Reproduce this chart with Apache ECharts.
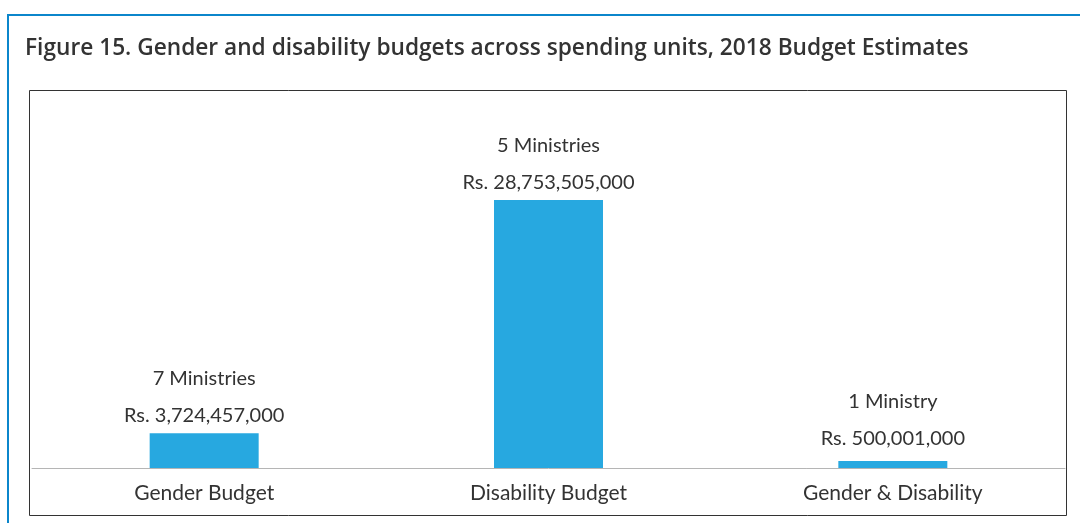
<!DOCTYPE html>
<html>
<head>
<meta charset="utf-8">
<script src="https://cdn.jsdelivr.net/npm/echarts@6/dist/echarts.min.js"></script>
<style>
  html, body { margin: 0; padding: 0; background: #fff; }
  #chart { width: 1080px; height: 523px; }
</style>
</head>
<body>
<div id="chart"></div>
<script>
// Budget categories and their 2018 estimates (Rs.)
const categories = ['Gender Budget', 'Disability Budget', 'Gender & Disability'];
const budgetValues = [3724457000, 28753505000, 500001000];
const ministryLabels = ['7 Ministries', '5 Ministries', '1 Ministry'];

const titleText = 'Figure 15. Gender and disability budgets across spending units, 2018 Budget Estimates';
const barColor = '#27a8e0';
const frameBlue = '#0b86cb';
const textColor = '#333333';
const fontFamily = 'Lato, "Open Sans", sans-serif';

function formatRs(v) {
  return 'Rs. ' + v.toString().replace(/\B(?=(\d{3})+(?!\d))/g, ',');
}

// very small bars get a little extra room above them for their label
const barData = budgetValues.map(function (v) {
  return v < 1e9 ? { value: v, label: { distance: 4 } } : { value: v };
});

const chart = echarts.init(document.getElementById('chart'), null, { renderer: 'canvas' });

chart.setOption({
  animation: false,
  backgroundColor: '#ffffff',
  title: {
    text: titleText,
    left: 20,
    top: 32,
    textStyle: {
      fontFamily: '"Open Sans", sans-serif',
      fontWeight: 600,
      fontSize: 22.7,
      color: textColor
    }
  },
  graphic: [
    // blue outer frame (top and left edges)
    { type: 'rect', shape: { x: 7, y: 14, width: 1080, height: 2 }, style: { fill: frameBlue }, silent: true },
    { type: 'rect', shape: { x: 7, y: 14, width: 2, height: 520 }, style: { fill: frameBlue }, silent: true },
    // chart box
    { type: 'rect', shape: { x: 29.5, y: 90.5, width: 1037, height: 425 },
      style: { fill: 'none', stroke: '#333333', lineWidth: 1 }, silent: true, z: 10 }
  ],
  grid: {
    left: 32,
    right: 1080 - 1065,
    top: 90,
    bottom: 523 - 468,
    containLabel: false
  },
  xAxis: {
    type: 'category',
    data: categories,
    axisLine: { show: true, lineStyle: { color: '#b5b5b5', width: 1 } },
    axisTick: { show: false },
    axisLabel: {
      color: textColor,
      fontFamily: fontFamily,
      fontSize: 21,
      margin: 15
    }
  },
  yAxis: {
    type: 'value',
    min: 0,
    max: 40550000000,
    show: false,
    splitLine: { show: false }
  },
  series: [{
    type: 'bar',
    data: barData,
    barWidth: 109,
    barMinHeight: 7,
    itemStyle: { color: barColor },
    label: {
      show: true,
      position: 'top',
      distance: -1,
      formatter: function (p) {
        return '{a|' + ministryLabels[p.dataIndex] + '}\n{b|' + formatRs(p.value) + '}';
      },
      rich: {
        a: { fontFamily: fontFamily, fontSize: 20, color: textColor, lineHeight: 37 },
        b: { fontFamily: fontFamily, fontSize: 20, color: textColor, lineHeight: 37 }
      }
    }
  }]
});
</script>
</body>
</html>
